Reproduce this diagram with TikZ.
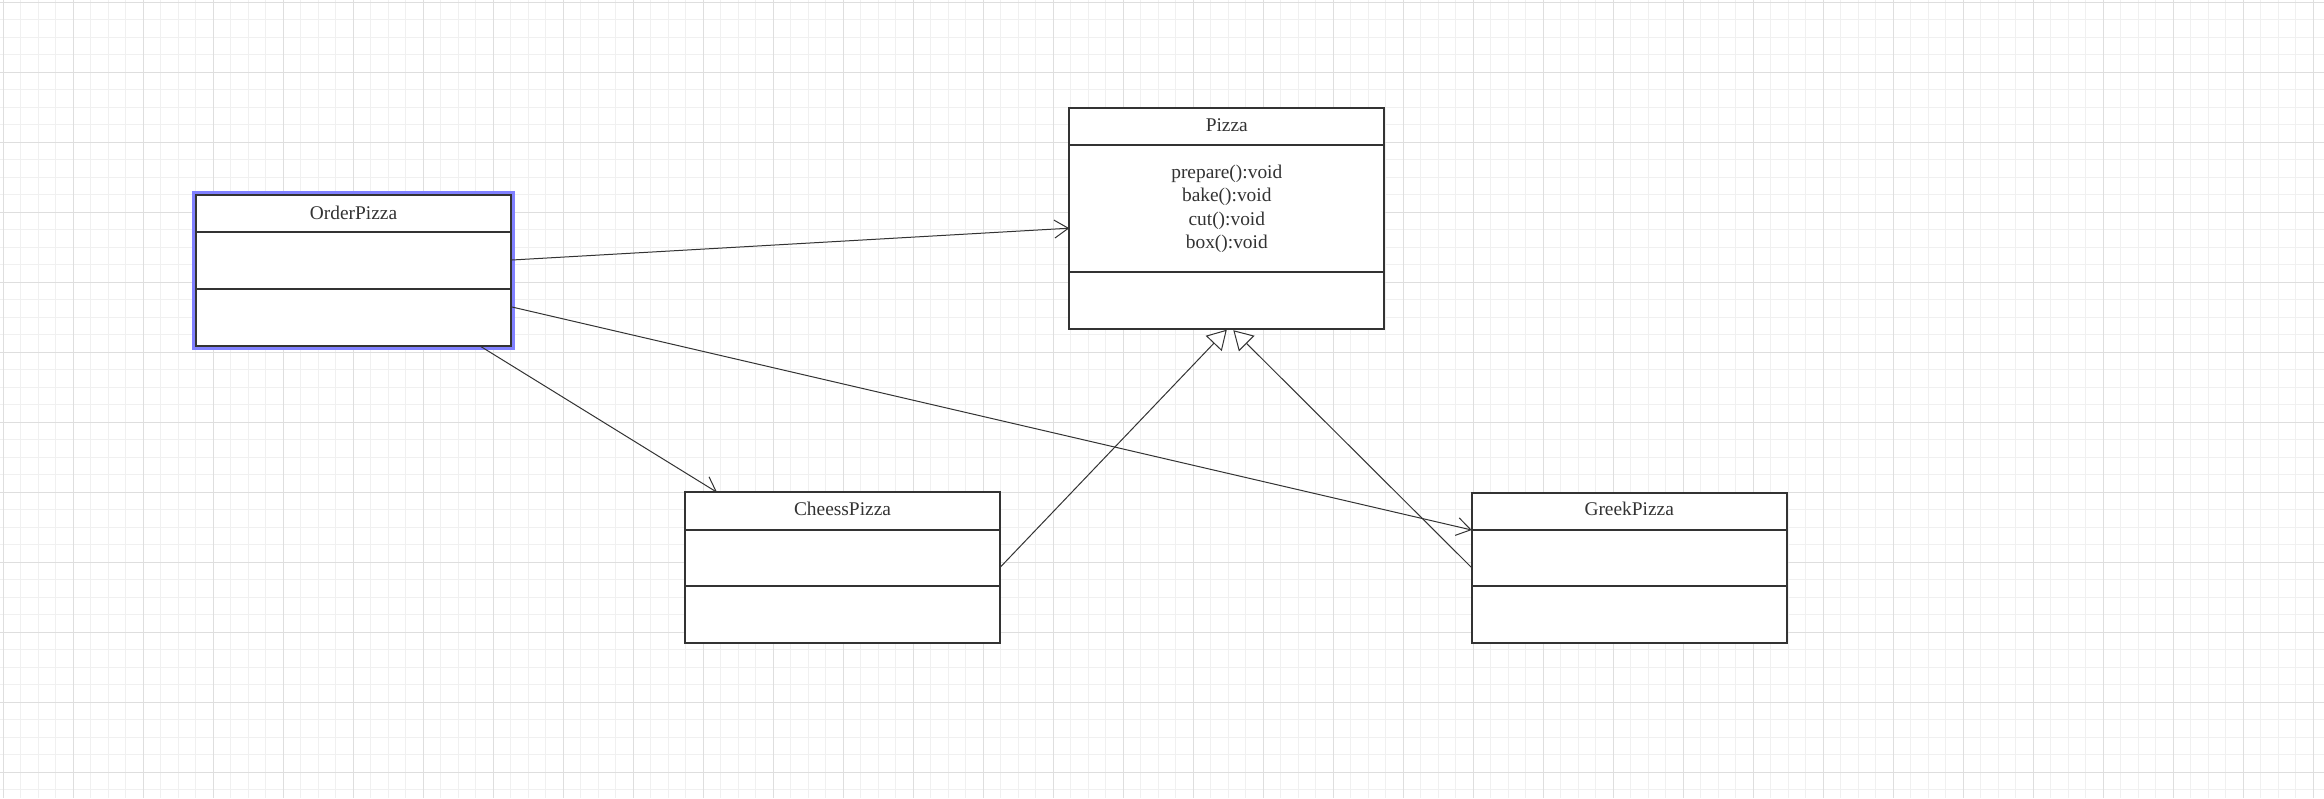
\documentclass[tikz,border=0pt]{standalone}
\usepackage{fontspec}
\setmainfont{Liberation Serif}
\usetikzlibrary{arrows.meta,calc}
\definecolor{ink}{RGB}{51,51,51}
\definecolor{minorg}{RGB}{240,240,240}
\definecolor{majorg}{RGB}{222,222,222}
\definecolor{selblue}{RGB}{128,128,255}
\begin{document}
\begin{tikzpicture}[x=1pt,y=-1pt,
  cls/.style={draw=ink, line width=2pt, fill=white, rectangle, minimum width=315pt, inner sep=0pt, outer sep=0pt},
  cltitle/.style={anchor=base, text=ink, font=\fontsize{19.4}{23.4}\selectfont, inner sep=0pt},
  divider/.style={draw=ink, line width=2pt},
  minorline/.style={draw=minorg, line width=1pt},
  majorline/.style={draw=majorg, line width=1pt},
  assoc/.style={draw=ink, line width=1pt, -{Straight Barb[length=14pt,width=18pt]}},
  inherit/.style={draw=ink, line width=1pt, -{Triangle[open,length=19pt,width=22pt,fill=white]}},
]
\useasboundingbox (0,0) rectangle (2324,798);
\fill[white] (0,0) rectangle (2324,798);
% grid
\foreach \i in {0,...,132} \draw[minorline] ({3+17.5*\i},0) -- ({3+17.5*\i},798);
\foreach \j in {0,...,45} \draw[minorline] (0,{2+17.5*\j}) -- (2324,{2+17.5*\j});
\foreach \i in {0,...,33} \draw[majorline] ({3+70*\i},0) -- ({3+70*\i},798);
\foreach \j in {0,...,11} \draw[majorline] (0,{2+70*\j}) -- (2324,{2+70*\j});

% OrderPizza
\node[cls, minimum height=151pt] (order) at (353.5,270.5) {};
\draw[divider] ($(order.north west)+(0,37.3)$) -- ($(order.north east)+(0,37.3)$);
\draw[divider] ($(order.north west)+(0,93.7)$) -- ($(order.north east)+(0,93.7)$);
\node[cltitle] (ordertitle) at ($(order.north)+(0,24)$) {OrderPizza};
\draw[selblue, line width=2.5pt] ($(order.north west)+(-2.3,-2.3)$) rectangle ($(order.south east)+(2.3,2.3)$);

% Pizza
\node[cls, minimum height=221pt] (pizza) at (1226.8,218.2) {};
\draw[divider] ($(pizza.north west)+(0,37.6)$) -- ($(pizza.north east)+(0,37.6)$);
\draw[divider] ($(pizza.north west)+(0,164.6)$) -- ($(pizza.north east)+(0,164.6)$);
\node[cltitle] (pizzatitle) at ($(pizza.north)+(0,23.5)$) {Pizza};
\node[cltitle] (m1) at ($(pizza.north)+(0,70.5)$) {prepare():void};
\node[cltitle] (m2) at ($(pizza.north)+(0,94)$) {bake():void};
\node[cltitle] (m3) at ($(pizza.north)+(0,117.4)$) {cut():void};
\node[cltitle] (m4) at ($(pizza.north)+(0,140.8)$) {box():void};

% CheessPizza
\node[cls, minimum height=150.4pt] (cheess) at (842.5,567.5) {};
\draw[divider] ($(cheess.north west)+(0,37.7)$) -- ($(cheess.north east)+(0,37.7)$);
\draw[divider] ($(cheess.north west)+(0,93.7)$) -- ($(cheess.north east)+(0,93.7)$);
\node[cltitle] (cheesstitle) at ($(cheess.north)+(0,23.4)$) {CheessPizza};

% GreekPizza
\node[cls, minimum height=150pt] (greek) at (1629.2,567.7) {};
\draw[divider] ($(greek.north west)+(0,37.3)$) -- ($(greek.north east)+(0,37.3)$);
\draw[divider] ($(greek.north west)+(0,93.6)$) -- ($(greek.north east)+(0,93.6)$);
\node[cltitle] (greektitle) at ($(greek.north)+(0,23.2)$) {GreekPizza};

% connectors
\draw[assoc] ($(order.north east)+(1,65)$) -- ($(pizza.west)+(0,10)$);
\draw[assoc] ($(order.north east)+(1,112)$) -- ($(greek.north west)+(0,37.3)$);
\draw[assoc] ($(order.south)+(126.5,0)$) -- ($(cheess.north west)+(32,0)$);
\draw[inherit] (cheess.east) -- ($(pizza.south)+(0,1)$);
\draw[inherit] (greek.west) -- ($(pizza.south)+(6.5,1.5)$);
\end{tikzpicture}
\end{document}
